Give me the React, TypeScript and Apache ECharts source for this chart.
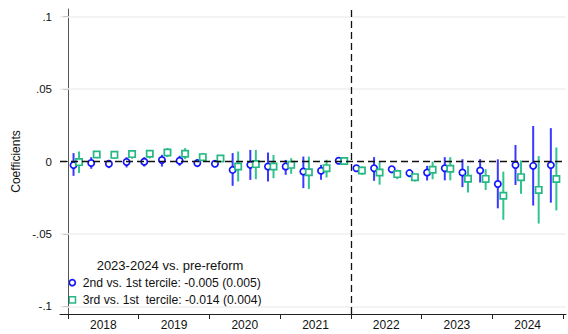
import React, { useEffect, useRef } from "react";
import * as echarts from "echarts";

// Quarterly event-study coefficients, 2018Q1 .. 2024Q4 (2021Q4 is the reference quarter)
const years = ["2018", "2019", "2020", "2021", "2022", "2023", "2024"];

const secondEst = [
  -0.0025, -0.001, -0.0016, -0.0003, -0.0002, 0.001, 0.0005, -0.0011,
  -0.0016, -0.0058, -0.0023, -0.0035, -0.0034, -0.0069, -0.0064, 0.0005,
  -0.0046, -0.0046, -0.0053, -0.008, -0.0076, -0.0046, -0.0076, -0.0062,
  -0.0155, -0.0024, -0.003, -0.0025,
];
const secondLo = [
  -0.0099, -0.005, -0.0046, -0.0041, -0.0035, -0.0035, -0.003, -0.0034,
  -0.0034, -0.0168, -0.0127, -0.0138, -0.0092, -0.0184, -0.0126, 0.0005,
  -0.0069, -0.0133, -0.008, -0.0108, -0.0131, -0.013, -0.0177, -0.0145,
  -0.0323, -0.0162, -0.0304, -0.0284,
];
const secondHi = [
  0.0058, 0.003, 0.0011, 0.003, 0.003, 0.0046, 0.004, 0.0012,
  0.0007, 0.0058, 0.008, 0.0062, 0.0011, 0.0034, -0.0023, 0.0005,
  -0.0023, 0.003, -0.003, -0.0053, -0.003, 0.003, 0.0016, 0.0016,
  0.0015, 0.0114, 0.0245, 0.023,
];

const thirdEst = [
  -0.0004, 0.0048, 0.0046, 0.0051, 0.0053, 0.0062, 0.0053, 0.003,
  0.0021, -0.0035, -0.0018, -0.0034, -0.0023, -0.0074, -0.0046, 0.0003,
  -0.0062, -0.0076, -0.0087, -0.0108, -0.0057, -0.005, -0.0119, -0.012,
  -0.0236, -0.0108, -0.0196, -0.0121,
];
const thirdLo = [
  -0.008, 0.0023, 0.0017, 0.0019, 0.0021, 0.003, 0.0017, 0.0012,
  0, -0.0138, -0.0122, -0.0115, -0.0085, -0.019, -0.011, 0.0003,
  -0.0092, -0.016, -0.0122, -0.0138, -0.0122, -0.013, -0.0214, -0.0196,
  -0.0402, -0.0223, -0.0428, -0.0337,
];
const thirdHi = [
  0.0069, 0.0069, 0.0069, 0.008, 0.008, 0.0092, 0.0092, 0.0058,
  0.004, 0.0069, 0.008, 0.0045, 0.0023, 0.0034, 0.0012, 0.0003,
  -0.0034, 0, -0.0057, -0.0085, 0, 0.003, -0.003, -0.0053,
  -0.007, 0.0007, 0.0037, 0.0097,
];

const yTickValues = [-0.1, -0.05, 0, 0.05, 0.1];
const yTickLabels = ["-.1", "-.05", "0", ".05", ".1"];

const legendTitle = "2023-2024 vs. pre-reform";
const legendSecond = "2nd vs. 1st tercile: -0.005 (0.005)";
const legendThird = "3rd vs. 1st  tercile: -0.014 (0.004)";

const BLUE = "#1414ff";
const BLUE_CI = "#3a3aff";
const GREEN = "#25b884";
const GREEN_CI = "#30c48e";
const FONT = "Liberation Sans, Arial, sans-serif";

// horizontal placement within each quarter (in quarter units)
const SECOND_SHIFT = 0.5 - 0.187;
const THIRD_SHIFT = 0.5 + 0.125;

function ciSeries(name: string, shift: number, lo: number[], hi: number[], color: string) {
  return {
    name,
    type: "custom",
    z: 3,
    data: lo.map((l, i) => [i + shift, l, hi[i]]),
    renderItem: (_p: any, api: any) => {
      const x = api.value(0);
      const a = api.coord([x, api.value(1)]);
      const b = api.coord([x, api.value(2)]);
      return {
        type: "line",
        shape: { x1: a[0], y1: a[1], x2: b[0], y2: b[1] },
        style: { stroke: color, lineWidth: 2 },
      };
    },
  };
}

function pointSeries(name: string, shift: number, est: number[], symbol: string, color: string) {
  return {
    name,
    type: "scatter",
    z: 4,
    symbol,
    symbolSize: 6.3,
    data: est.map((v, i) => [i + shift, v]),
    itemStyle: { color: "#ffffff", borderColor: color, borderWidth: 1.7, opacity: 1 },
  };
}

export default function App() {
  const ref = useRef<HTMLDivElement>(null);

  useEffect(() => {
    if (!ref.current) return;
    const chart = echarts.init(ref.current, undefined, { renderer: "svg" });
    const nQ = years.length * 4;

    const option: any = {
      animation: false,
      backgroundColor: "#ffffff",
      grid: { left: 60, right: 2, top: 9, bottom: 20 },
      xAxis: {
        type: "value",
        min: -0.4525,
        max: nQ + 0.17,
        splitLine: { show: false },
        axisLine: { show: true, onZero: false, lineStyle: { color: "#222", width: 1 } },
        axisTick: {
          show: true,
          length: 5,
          lineStyle: { color: "#222" },
          customValues: years.map((_, i) => i * 4).concat([nQ]),
        },
        axisLabel: {
          customValues: years.map((_, i) => i * 4 + 2),
          formatter: (v: number) => years[Math.round((v - 2) / 4)] ?? "",
          margin: 5,
          fontSize: 12,
          color: "#111",
          fontFamily: FONT,
        },
      },
      yAxis: {
        type: "value",
        min: -0.1052,
        max: 0.1052,
        splitLine: { show: false },
        axisLine: { show: true, lineStyle: { color: "#555", width: 1 } },
        axisTick: { show: true, length: 5, lineStyle: { color: "#555" }, customValues: yTickValues },
        axisLabel: {
          customValues: yTickValues,
          formatter: (v: number) => {
            const k = yTickValues.findIndex((t) => Math.abs(t - v) < 1e-9);
            return k >= 0 ? yTickLabels[k] : "";
          },
          margin: 8,
          fontSize: 11.5,
          color: "#111",
          fontFamily: FONT,
        },
      },
      series: [
        {
          name: "guides",
          type: "scatter",
          data: [],
          z: 1,
          markLine: {
            silent: true,
            symbol: "none",
            label: { show: false },
            lineStyle: { color: "#efefef", width: 1.5, type: "solid" },
            data: yTickValues.filter((v) => v !== 0).map((v) => ({ yAxis: v })),
          },
        },
        {
          name: "refs",
          type: "scatter",
          data: [],
          z: 2,
          markLine: {
            silent: true,
            symbol: "none",
            label: { show: false },
            lineStyle: { color: "#111", width: 1.3, type: [7, 4] },
            data: [{ yAxis: 0 }, { xAxis: 16 }],
          },
        },
        ciSeries("2nd ci", SECOND_SHIFT, secondLo, secondHi, BLUE_CI),
        pointSeries("2nd vs. 1st tercile", SECOND_SHIFT, secondEst, "circle", BLUE),
        ciSeries("3rd ci", THIRD_SHIFT, thirdLo, thirdHi, GREEN_CI),
        pointSeries("3rd vs. 1st tercile", THIRD_SHIFT, thirdEst, "rect", GREEN),
      ],
      graphic: [
        {
          type: "text",
          x: 16,
          y: 161.5,
          rotation: Math.PI / 2,
          style: {
            text: "Coefficients",
            fontSize: 12,
            fontFamily: FONT,
            fill: "#111",
            align: "center",
            verticalAlign: "middle",
          },
        },
        {
          type: "text",
          x: 170,
          y: 265,
          style: {
            text: legendTitle,
            fontSize: 13,
            fontFamily: FONT,
            fill: "#111",
            align: "center",
            verticalAlign: "middle",
          },
        },
        {
          type: "circle",
          shape: { cx: 72.3, cy: 282.7, r: 3 },
          style: { fill: "#fff", stroke: BLUE, lineWidth: 1.7 },
        },
        {
          type: "text",
          x: 82.7,
          y: 282.7,
          style: {
            text: legendSecond,
            fontSize: 12.2,
            fontFamily: FONT,
            fill: "#111",
            align: "left",
            verticalAlign: "middle",
          },
        },
        {
          type: "rect",
          shape: { x: 69.2, y: 296.8, width: 6.3, height: 6.3 },
          style: { fill: "#fff", stroke: GREEN, lineWidth: 1.5 },
        },
        {
          type: "text",
          x: 82.7,
          y: 300,
          style: {
            text: legendThird,
            fontSize: 12.2,
            fontFamily: FONT,
            fill: "#111",
            align: "left",
            verticalAlign: "middle",
          },
        },
      ],
    };

    chart.setOption(option);
    return () => chart.dispose();
  }, []);

  return (
    <div
      ref={ref}
      style={{ position: "fixed", left: 0, top: 0, width: 568, height: 334, background: "#fff" }}
    />
  );
}
